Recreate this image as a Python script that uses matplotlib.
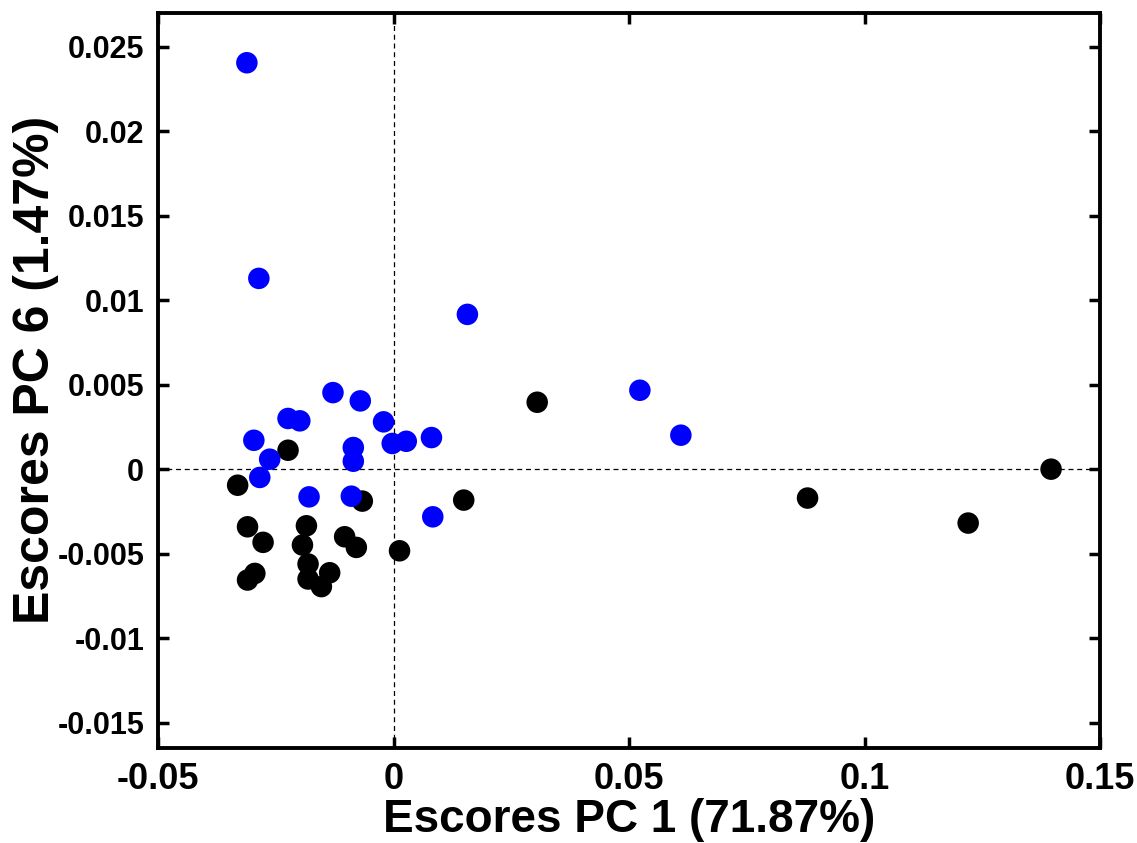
import matplotlib
matplotlib.use("Agg")
import matplotlib.pyplot as plt

blue_x = [-0.03114, -0.0286, 0.01568, 0.0523, 0.0610,
          -0.01286, -0.00706, -0.0224, -0.0199, -0.00212, -0.02966, -0.00028,
          0.0027, 0.00805, -0.00854, -0.00854, -0.0263, -0.0284, -0.01794,
          -0.00896, 0.00833]
blue_y = [0.02405, 0.01129, 0.00916, 0.00467, 0.00201,
          0.00453, 0.00404, 0.0030, 0.00286, 0.0028, 0.00171, 0.00152,
          0.00165, 0.00187, 0.00128, 0.00047, 0.00059, -0.00049, -0.00164,
          -0.0016, -0.00282]

black_x = [0.0305, 0.0879, 0.122, 0.1396,
           -0.0224, -0.0331, -0.00663, 0.0149, -0.031, -0.0277, -0.0185,
           -0.01934, -0.01038, -0.0079, 0.00127, -0.01815, -0.01356, -0.01815,
           -0.01532, -0.02945, -0.031]
black_y = [0.00396, -0.00171, -0.00319, 0.0,
           0.00112, -0.00095, -0.00189, -0.00183, -0.00341, -0.00433, -0.00335,
           -0.00449, -0.0040, -0.00463, -0.00483, -0.00561, -0.00613, -0.0065,
           -0.00695, -0.00617, -0.00656]

xticks = [-0.05, 0, 0.05, 0.1, 0.15]
xticklabels = ["-0.05", "0", "0.05", "0.1", "0.15"]
yticks = [-0.015, -0.01, -0.005, 0, 0.005, 0.01, 0.015, 0.02, 0.025]
yticklabels = ["-0.015", "-0.01", "-0.005", "0", "0.005", "0.01", "0.015", "0.02", "0.025"]

plt.rcParams['font.family'] = ['Liberation Sans', 'DejaVu Sans']

fig = plt.figure(figsize=(11.37, 8.43), dpi=100)
ax = fig.add_axes([0.139, 0.1127, 0.8285, 0.872])

ax.axhline(0, color='black', linestyle=(0, (4, 3)), linewidth=0.9, zorder=1)
ax.axvline(0, color='black', linestyle=(0, (4, 3)), linewidth=0.9, zorder=1)

ax.scatter(black_x, black_y, s=240, color='black', edgecolors='none', zorder=3)
ax.scatter(blue_x, blue_y, s=240, color='#0000ff', edgecolors='none', zorder=3)

ax.set_xlim(-0.05, 0.15)
ax.set_ylim(-0.0165, 0.027)
ax.set_xticks(xticks)
ax.set_xticklabels(xticklabels, fontsize=26, fontweight='bold')
ax.set_yticks(yticks)
ax.set_yticklabels(yticklabels, fontsize=22, fontweight='bold')
ax.tick_params(direction='in', length=8, width=2.5, top=True, right=True, pad=10)
for sp in ax.spines.values():
    sp.set_linewidth(2.8)

ax.set_xlabel("Escores PC 1 (71.87%)", fontsize=33, fontweight='bold')
ax.xaxis.set_label_coords(0.5, -0.068)
ax.set_ylabel("Escores PC 6 (1.47%)", fontsize=36, fontweight='bold')
ax.yaxis.set_label_coords(-0.105, 0.515)

fig.savefig("out.png", dpi=100)
